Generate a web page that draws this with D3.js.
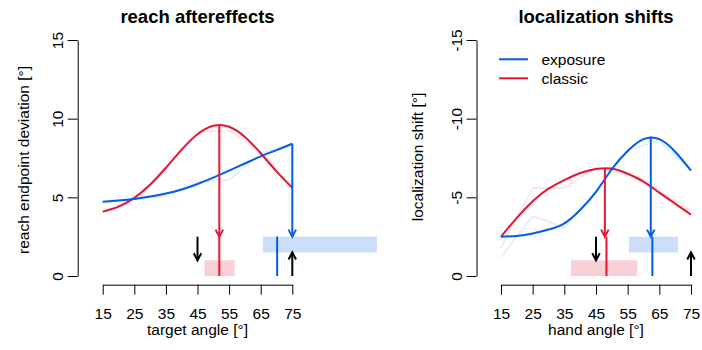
<!DOCTYPE html>
<html>
<head>
<meta charset="utf-8">
<script src="https://cdn.jsdelivr.net/npm/d3@7"></script>
<style>
body { margin: 0; background: #fff; }
text { font-family: "Liberation Sans", Arial, sans-serif; fill: #000; }
</style>
</head>
<body>
<script>
var W = 702, H = 350;
var red = "#e51636", blue = "#005de8";

// angles (deg) the fitted curves were read at
var angles = [15, 20, 25, 30, 35, 40, 45, 50, 55, 60, 65, 70, 75];
// raw target / hand angles
var rawAngles = [15, 25, 35, 45, 55, 65, 75];
var ticksX = [15, 25, 35, 45, 55, 65, 75];

// reach aftereffects
var reachClassic  = [4.09, 4.41, 4.97, 5.8, 6.88, 8.03, 9.01, 9.55, 9.49, 8.84, 7.8, 6.65, 5.6];
var reachExposure = [4.72, 4.8, 4.9, 5.05, 5.25, 5.5, 5.85, 6.25, 6.7, 7.15, 7.6, 8.0, 8.41];
var reachClassicRaw  = [4.0, 4.9, 6.9, 9.2, 9.2, 7.9, 5.6];
var reachExposureRaw = [4.7, 4.9, 5.1, 6.0, 6.1, 7.8, 8.4];

// localization shifts
var locClassic  = [-2.5, -3.7, -4.75, -5.55, -6.1, -6.55, -6.8, -6.83, -6.5, -6.0, -5.3, -4.6, -3.9];
var locExposure = [-2.5, -2.55, -2.7, -2.95, -3.35, -4.2, -5.35, -6.8, -7.95, -8.7, -8.7, -7.9, -6.7];
var locClassicRaw  = [-1.8, -5.6, -5.6, -6.9, -6.5, -5.4, -4.2];
var locExposureRaw = [-1.2, -3.8, -3.1, -5.4, -8.0, -8.6, -6.7];

// peaks of the fits: [angle, value]
var reachPeaks = {classic: [51.9, 9.6], exposure: [75, 8.41]};
var locPeaks   = {classic: [47.8, -6.85], exposure: [62.3, -8.85]};
// bootstrapped peak: [median, lo, hi, barLow, barHigh]
var reachCI = {classic: [51.9, 47.2, 56.7, 0, 1], exposure: [70.2, 65.7, 101.8, 1.5, 2.5]};
var locCI   = {classic: [48.3, 37.1, 58.0, 0, -1], exposure: [62.8, 55.4, 70.9, -1.5, -2.5]};

var svg = d3.select("body").append("svg")
    .attr("width", W)
    .attr("height", H);

function arrow(g, x, y1, y2, color) {
    var len = 8, ang = 28 * Math.PI / 180;
    var dir = y2 > y1 ? -1 : 1;
    g.append("line")
        .attr("x1", x).attr("x2", x)
        .attr("y1", y1).attr("y2", y2)
        .style("stroke", color).style("stroke-width", 2);
    g.append("path")
        .attr("d", "M" + (x - len * Math.sin(ang)) + "," + (y2 + dir * len * Math.cos(ang)) +
            "L" + x + "," + y2 +
            "L" + (x + len * Math.sin(ang)) + "," + (y2 + dir * len * Math.cos(ang)))
        .style("fill", "none").style("stroke", color).style("stroke-width", 2);
}

function panel(opt) {
    var g = svg.append("g");
    var x = d3.scaleLinear().domain([15, 75]).range(opt.xr);
    var y = d3.scaleLinear().domain(opt.yd).range([276, 40]);

    //axes
    var xAxis = g.append("g")
        .attr("transform", "translate(0,284.7)")
        .call(d3.axisBottom(x).tickValues(ticksX).tickSize(10).tickSizeOuter(0).tickPadding(13));
    var yAxis = g.append("g")
        .attr("transform", "translate(" + opt.ax + ",0)")
        .call(d3.axisLeft(y).tickValues(opt.yticks).tickSize(10).tickSizeOuter(0)
            .tickFormat(function(d){ return String(d); }));
    g.selectAll(".domain, .tick line").style("stroke", "#000");
    g.selectAll(".tick text").style("font-size", "15.5px").style("font-family", "Liberation Sans, Arial, sans-serif");
    yAxis.selectAll(".tick text")
        .attr("x", null).attr("dy", null)
        .attr("text-anchor", "middle")
        .attr("transform", "translate(-15,0) rotate(-90)");

    //titles
    g.append("text")
        .attr("x", (opt.xr[0] + opt.xr[1]) / 2).attr("y", 23)
        .attr("text-anchor", "middle")
        .style("font-size", "18.5px").style("font-weight", "bold")
        .text(opt.title);
    g.append("text")
        .attr("x", (opt.xr[0] + opt.xr[1]) / 2).attr("y", 335)
        .attr("text-anchor", "middle")
        .style("font-size", "15.5px")
        .text(opt.xlab);
    g.append("text")
        .attr("transform", "translate(" + opt.ylx + "," + opt.ylc + ") rotate(-90)")
        .attr("text-anchor", "middle")
        .style("font-size", "15.5px")
        .text(opt.ylab);

    var line = d3.line()
        .x(function(d){ return x(d[0]); })
        .y(function(d){ return y(d[1]); });
    var smooth = d3.line()
        .x(function(d){ return x(d[0]); })
        .y(function(d){ return y(d[1]); })
        .curve(d3.curveNatural);

    //raw data, very faint
    [[opt.classicRaw, red], [opt.exposureRaw, blue]].forEach(function(s){
        g.append("path")
            .datum(d3.zip(rawAngles, s[0]))
            .attr("d", line)
            .style("fill", "none").style("stroke", s[1])
            .style("stroke-opacity", 0.1).style("stroke-width", 2);
    });

    //bootstrap CI rects + median lines
    [["classic", red], ["exposure", blue]].forEach(function(s){
        var c = opt.ci[s[0]];
        g.append("rect")
            .attr("x", x(c[1]))
            .attr("width", x(c[2]) - x(c[1]))
            .attr("y", Math.min(y(c[3]), y(c[4])))
            .attr("height", Math.abs(y(c[3]) - y(c[4])))
            .style("fill", s[1]).style("fill-opacity", 0.2);
    });
    [["classic", red], ["exposure", blue]].forEach(function(s){
        var c = opt.ci[s[0]];
        g.append("line")
            .attr("x1", x(c[0])).attr("x2", x(c[0]))
            .attr("y1", y(0)).attr("y2", y(opt.yd[1] > 0 ? 2.5 : -2.5))
            .style("stroke", s[1]).style("stroke-width", 2);
    });

    //fitted curves
    [[opt.classic, red], [opt.exposure, blue]].forEach(function(s){
        g.append("path")
            .datum(d3.zip(angles, s[0]))
            .attr("d", smooth)
            .style("fill", "none").style("stroke", s[1]).style("stroke-width", 2);
    });

    //peak arrows
    var sgn = opt.yd[1] > 0 ? 1 : -1;
    [["classic", red], ["exposure", blue]].forEach(function(s){
        var p = opt.peaks[s[0]];
        arrow(g, x(p[0]), y(p[1]), y(2.5 * sgn), s[1]);
    });

    //black reference arrows
    arrow(g, x(45), y(2.5 * sgn), y(1 * sgn), "#000");
    arrow(g, x(75), y(0), y(1.5 * sgn), "#000");

    return g;
}

panel({
    xr: [102.7, 292.3], ax: 77.7, yd: [0, 15], yticks: [0, 5, 10, 15],
    title: "reach aftereffects", xlab: "target angle [°]", ylab: "reach endpoint deviation [°]",
    ylx: 28.5, ylc: 160,
    classic: reachClassic, exposure: reachExposure,
    classicRaw: reachClassicRaw, exposureRaw: reachExposureRaw,
    peaks: reachPeaks, ci: reachCI
});

panel({
    xr: [501, 691], ax: 476.5, yd: [0, -15], yticks: [0, -5, -10, -15],
    title: "localization shifts", xlab: "hand angle [°]", ylab: "localization shift [°]",
    ylx: 422.5, ylc: 157,
    classic: locClassic, exposure: locExposure,
    classicRaw: locClassicRaw, exposureRaw: locExposureRaw,
    peaks: locPeaks, ci: locCI
});

//legend
var legend = svg.append("g");
var legendItems = ["exposure", "classic"];
var legendColors = [blue, red];
legendItems.forEach(function(d, i){
    var ly = 59.3 + i * 19;
    legend.append("line")
        .attr("x1", 499).attr("x2", 528)
        .attr("y1", ly).attr("y2", ly)
        .style("stroke", legendColors[i]).style("stroke-width", 2);
    legend.append("text")
        .attr("x", 541.5).attr("y", ly + 5.5)
        .style("font-size", "15.5px")
        .text(d);
});
</script>
</body>
</html>
